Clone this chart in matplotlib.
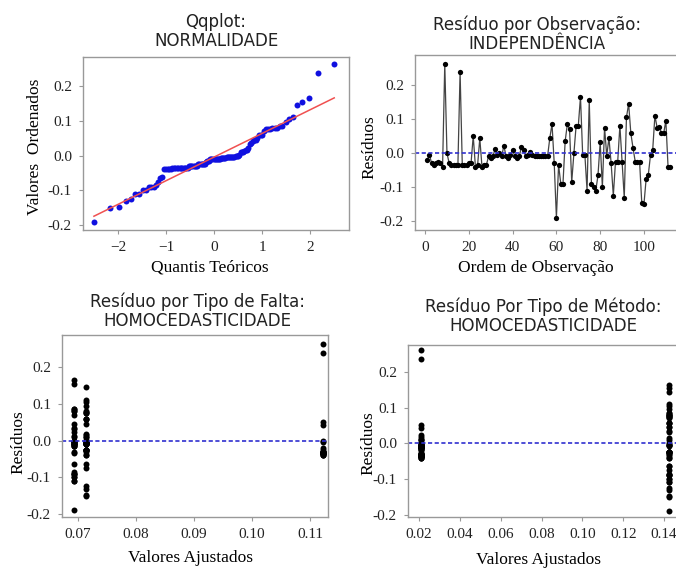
import matplotlib
matplotlib.use('Agg')
import matplotlib.pyplot as plt
import numpy as np
from statistics import NormalDist

# residuos por ordem de observacao
residuos = [-0.02, -0.005, -0.03, -0.035, -0.03, -0.025, -0.03, -0.04, 0.262, 0.0,
            -0.03, -0.035, -0.035, -0.035, -0.035, 0.238, -0.035, -0.035, -0.035, -0.03,
            -0.03, 0.05, -0.04, -0.035, 0.043, -0.04, -0.035, -0.035, -0.01, -0.015,
            -0.01, 0.012, -0.005, 0.0, -0.01, 0.022, -0.01, -0.015, -0.005, 0.01,
            -0.01, -0.015, -0.01, 0.017, 0.01, -0.01, -0.005, 0.002, -0.005, -0.01,
            -0.008, -0.01, -0.01, -0.008, -0.008, -0.008, 0.045, 0.085, -0.03, -0.19,
            -0.035, -0.09, -0.09, 0.035, 0.085, 0.07, -0.085, 0.0, 0.08, 0.08,
            0.165, -0.005, -0.005, -0.11, 0.155, -0.09, -0.1, -0.11, -0.065, 0.032,
            -0.1, 0.075, -0.008, 0.045, -0.03, -0.125, -0.025, -0.025, 0.08, -0.025,
            -0.132, 0.105, 0.145, 0.058, 0.015, -0.025, -0.025, -0.025, -0.147, -0.15,
            -0.075, -0.063, -0.005, 0.01, 0.11, 0.075, 0.077, 0.058, 0.058, 0.095,
            -0.04, -0.04]
# tipo de falta e metodo de cada observacao
falta = ['C'] * 28 + ['A'] * 14 + ['B'] * 14 + ['A'] * 25 + ['B'] * 31
metodo = ['M1'] * 56 + ['M2'] * 56
ajuste_falta = {'A': 0.0693, 'B': 0.0714, 'C': 0.1122}
ajuste_metodo = {'M1': 0.021, 'M2': 0.1425}

res = np.array(residuos)
n = len(res)
obs = np.arange(1, n + 1)

# quantis teoricos (Filliben)
p = (obs - 0.3175) / (n + 0.365)
p[-1] = 0.5 ** (1.0 / n)
p[0] = 1 - p[-1]
quantis = np.array([NormalDist().inv_cdf(v) for v in p])
ordenados = np.sort(res)
a, b = np.polyfit(quantis, ordenados, 1)

W, H = 676, 571
fig = plt.figure(figsize=(W / 100, H / 100), dpi=100)


def caixa(l, r, t, bt):
    return [l / W, 1 - bt / H, (r - l) / W, (bt - t) / H]


def txt(x, y, s, **kw):
    fig.text(x / W, 1 - y / H, s, ha='center', va='center', **kw)


serif = ['Liberation Serif', 'DejaVu Serif']
sans = ['DejaVu Sans']
yt = [-0.2, -0.1, 0.0, 0.1, 0.2]
ytl = ['-0.2', '-0.1', '0.0', '0.1', '0.2']


def estilo(ax):
    for sp in ax.spines.values():
        sp.set_color('#999999')
        sp.set_linewidth(1.0)
    ax.tick_params(direction='out', length=3, width=0.8, color='#999999',
                   labelsize=11, labelcolor='#222222', pad=5)
    for lb in ax.get_xticklabels() + ax.get_yticklabels():
        lb.set_family(serif)


def titulo(x, y, l1, l2):
    txt(x, y, l1, family=sans, fontsize=12, color='#222222')
    txt(x, y + 19, l2, family=sans, fontsize=12, color='#222222')


# Qqplot
ax1 = fig.add_axes(caixa(83, 349, 57, 230))
ax1.plot(quantis, ordenados, 'o', color='#1010e0', ms=4.3, mec='none')
ax1.plot([quantis[0], quantis[-1]], [a * quantis[0] + b, a * quantis[-1] + b],
         color='#f05050', lw=1.1)
ax1.set_xlim(-2.73, 2.81)
ax1.set_ylim(-0.214, 0.283)
ax1.set_xticks([-2, -1, 0, 1, 2])
ax1.set_yticks(yt)
ax1.set_yticklabels(ytl)
estilo(ax1)
titulo(216, 22, 'Qqplot:', 'NORMALIDADE')
txt(210, 268, 'Quantis Teóricos', family=serif, fontsize=12.5)
txt(35, 147, 'Valores  Ordenados', family=serif, fontsize=12.5, rotation=90)

# Residuo por observacao
ax2 = fig.add_axes(caixa(415, 700, 55, 230))
ax2.plot(obs, res, '-', color='#444444', lw=0.9)
ax2.plot(obs, res, 'o', color='black', ms=3.8, mec='none')
ax2.axhline(0, color='#3030d0', lw=1.2, ls=(0, (2.5, 1.5)))
ax2.set_xlim(-4.6, 125.6)
ax2.set_ylim(-0.226, 0.288)
ax2.set_xticks([0, 20, 40, 60, 80, 100])
ax2.set_yticks(yt)
ax2.set_yticklabels(ytl)
estilo(ax2)
titulo(537, 25, 'Resíduo por Observação:', 'INDEPENDÊNCIA')
txt(536, 268, 'Ordem de Observação', family=serif, fontsize=12.5)
txt(369, 147, 'Resíduos', family=serif, fontsize=12.5, rotation=90)

# Residuo por tipo de falta
x3 = [ajuste_falta[f] for f in falta]
ax3 = fig.add_axes(caixa(62, 328, 335, 517))
ax3.plot(x3, res, 'o', color='black', ms=4.3, mec='none')
ax3.axhline(0, color='#3030d0', lw=1.2, ls=(0, (2.5, 1.5)))
ax3.set_xlim(0.06724, 0.1131)
ax3.set_ylim(-0.208, 0.287)
ax3.set_xticks([0.07, 0.08, 0.09, 0.10, 0.11])
ax3.set_xticklabels(['0.07', '0.08', '0.09', '0.10', '0.11'])
ax3.set_yticks(yt)
ax3.set_yticklabels(ytl)
estilo(ax3)
titulo(197, 302, 'Resíduo por Tipo de Falta:', 'HOMOCEDASTICIDADE')
txt(190, 558, 'Valores Ajustados', family=serif, fontsize=12.5)
txt(18, 442, 'Resíduos', family=serif, fontsize=12.5, rotation=90)

# Residuo por tipo de metodo
x4 = [ajuste_metodo[m] for m in metodo]
ax4 = fig.add_axes(caixa(408, 700, 345, 517))
ax4.plot(x4, res, 'o', color='black', ms=4.3, mec='none')
ax4.axhline(0, color='#3030d0', lw=1.2, ls=(0, (2.5, 1.5)))
ax4.set_xlim(0.01461, 0.1576)
ax4.set_ylim(-0.207, 0.276)
ax4.set_xticks([0.02, 0.04, 0.06, 0.08, 0.10, 0.12, 0.14])
ax4.set_xticklabels(['0.02', '0.04', '0.06', '0.08', '0.10', '0.12', '0.14'])
ax4.set_yticks(yt)
ax4.set_yticklabels(ytl)
estilo(ax4)
titulo(543, 307, 'Resíduo Por Tipo de Método:', 'HOMOCEDASTICIDADE')
txt(539, 560, 'Valores Ajustados', family=serif, fontsize=12.5)
txt(368, 443, 'Resíduos', family=serif, fontsize=12.5, rotation=90)

fig.savefig('out.png', dpi=100)
